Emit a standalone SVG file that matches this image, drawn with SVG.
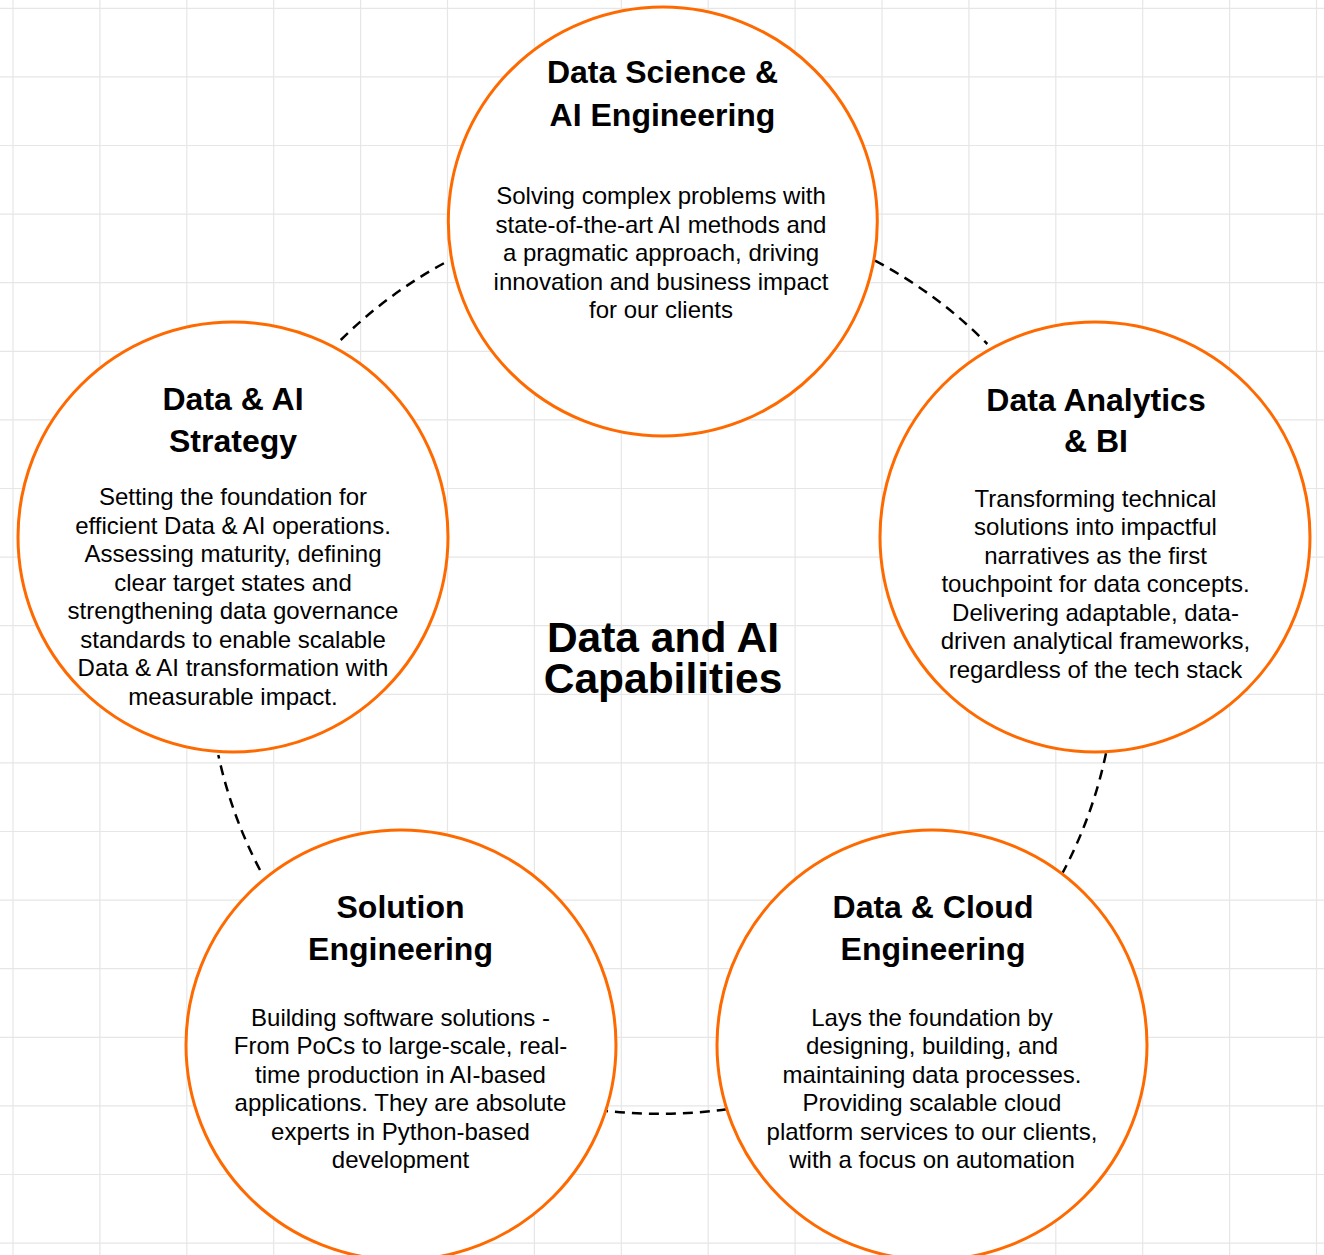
<svg xmlns="http://www.w3.org/2000/svg" width="1324" height="1255" viewBox="0 0 1324 1255">
<style>
.grid{stroke:#e6e6e6;stroke-width:1.2;fill:none}
.node{fill:#ffffff;stroke:#ff6a00;stroke-width:3}
.link{fill:none;stroke:#000000;stroke-width:2.5;stroke-dasharray:10 7}
.title{font-family:"Liberation Sans",Arial,sans-serif;font-weight:bold;font-size:32px;fill:#000;text-anchor:middle}
.body{font-family:"Liberation Sans",Arial,sans-serif;font-size:24px;fill:#000;text-anchor:middle}
.center{font-family:"Liberation Sans",Arial,sans-serif;font-weight:bold;font-size:42.5px;fill:#000;text-anchor:middle}
</style>
<rect width="1324" height="1255" fill="#ffffff"/>
<g id="grid">
<path class="grid" d="M13,0V1255M99.9,0V1255M186.8,0V1255M273.7,0V1255M360.6,0V1255M447.5,0V1255M534.4,0V1255M621.3,0V1255M708.2,0V1255M795.1,0V1255M882,0V1255M968.9,0V1255M1055.8,0V1255M1142.7,0V1255M1229.6,0V1255M1316.5,0V1255"/>
<path class="grid" d="M0,8.3H1324M0,76.9H1324M0,145.5H1324M0,214.1H1324M0,282.7H1324M0,351.3H1324M0,419.9H1324M0,488.5H1324M0,557.1H1324M0,625.7H1324M0,694.3H1324M0,762.9H1324M0,831.5H1324M0,900.1H1324M0,968.7H1324M0,1037.3H1324M0,1105.9H1324M0,1174.5H1324M0,1243.1H1324"/>
</g>
<g id="connectors">
<path class="link" d="M340.7,340 A455,455 0 0 1 450,260"/>
<path class="link" d="M875,260.7 A455,455 0 0 1 987.3,344"/>
<path class="link" d="M1106,753.3 A455,455 0 0 1 1062.7,872.7"/>
<path class="link" d="M726.7,1109.3 A500,500 0 0 1 606.7,1111"/>
<path class="link" d="M260,870 A455,455 0 0 1 218.3,755"/>
</g>
<g id="node-ds">
<circle class="node" cx="662.8" cy="221.5" r="214.5"/>
<text class="title" x="662.5" y="83.3">Data Science &amp;</text>
<text class="title" x="662.5" y="126">AI Engineering</text>
<text class="body" x="661" y="204">Solving complex problems with</text>
<text class="body" x="661" y="232.5">state-of-the-art AI methods and</text>
<text class="body" x="661" y="261">a pragmatic approach, driving</text>
<text class="body" x="661" y="289.5">innovation and business impact</text>
<text class="body" x="661" y="318">for our clients</text>
</g>
<g id="node-strategy">
<circle class="node" cx="233" cy="537" r="215"/>
<text class="title" x="233" y="410">Data &amp; AI</text>
<text class="title" x="233" y="452">Strategy</text>
<text class="body" x="233" y="505">Setting the foundation for</text>
<text class="body" x="233" y="533.5">efficient Data &amp; AI operations.</text>
<text class="body" x="233" y="562">Assessing maturity, defining</text>
<text class="body" x="233" y="590.5">clear target states and</text>
<text class="body" x="233" y="619">strengthening data governance</text>
<text class="body" x="233" y="647.5">standards to enable scalable</text>
<text class="body" x="233" y="676">Data &amp; AI transformation with</text>
<text class="body" x="233" y="704.5">measurable impact.</text>
</g>
<g id="node-analytics">
<circle class="node" cx="1095" cy="537" r="215"/>
<text class="title" x="1096" y="410.7">Data Analytics</text>
<text class="title" x="1096" y="452">&amp; BI</text>
<text class="body" x="1095.5" y="506.7">Transforming technical</text>
<text class="body" x="1095.5" y="535">solutions into impactful</text>
<text class="body" x="1095.5" y="563.5">narratives as the first</text>
<text class="body" x="1095.5" y="592">touchpoint for data concepts.</text>
<text class="body" x="1095.5" y="620.5">Delivering adaptable, data-</text>
<text class="body" x="1095.5" y="649">driven analytical frameworks,</text>
<text class="body" x="1095.5" y="677.5">regardless of the tech stack</text>
</g>
<g id="node-solution">
<circle class="node" cx="401" cy="1045" r="215"/>
<text class="title" x="400.5" y="918.3">Solution</text>
<text class="title" x="400.5" y="960">Engineering</text>
<text class="body" x="400.5" y="1025.7">Building software solutions -</text>
<text class="body" x="400.5" y="1054">From PoCs to large-scale, real-</text>
<text class="body" x="400.5" y="1082.5">time production in AI-based</text>
<text class="body" x="400.5" y="1111">applications. They are absolute</text>
<text class="body" x="400.5" y="1139.5">experts in Python-based</text>
<text class="body" x="400.5" y="1168">development</text>
</g>
<g id="node-cloud">
<circle class="node" cx="932" cy="1045" r="215"/>
<text class="title" x="933" y="918.3">Data &amp; Cloud</text>
<text class="title" x="933" y="960">Engineering</text>
<text class="body" x="932" y="1025.7">Lays the foundation by</text>
<text class="body" x="932" y="1054">designing, building, and</text>
<text class="body" x="932" y="1082.5">maintaining data processes.</text>
<text class="body" x="932" y="1111">Providing scalable cloud</text>
<text class="body" x="932" y="1139.5">platform services to our clients,</text>
<text class="body" x="932" y="1168">with a focus on automation</text>
</g>
<g id="center-label">
<text class="center"><tspan x="663" y="651.5">Data and AI</tspan><tspan x="663" y="692.5">Capabilities</tspan></text>
</g>
</svg>
